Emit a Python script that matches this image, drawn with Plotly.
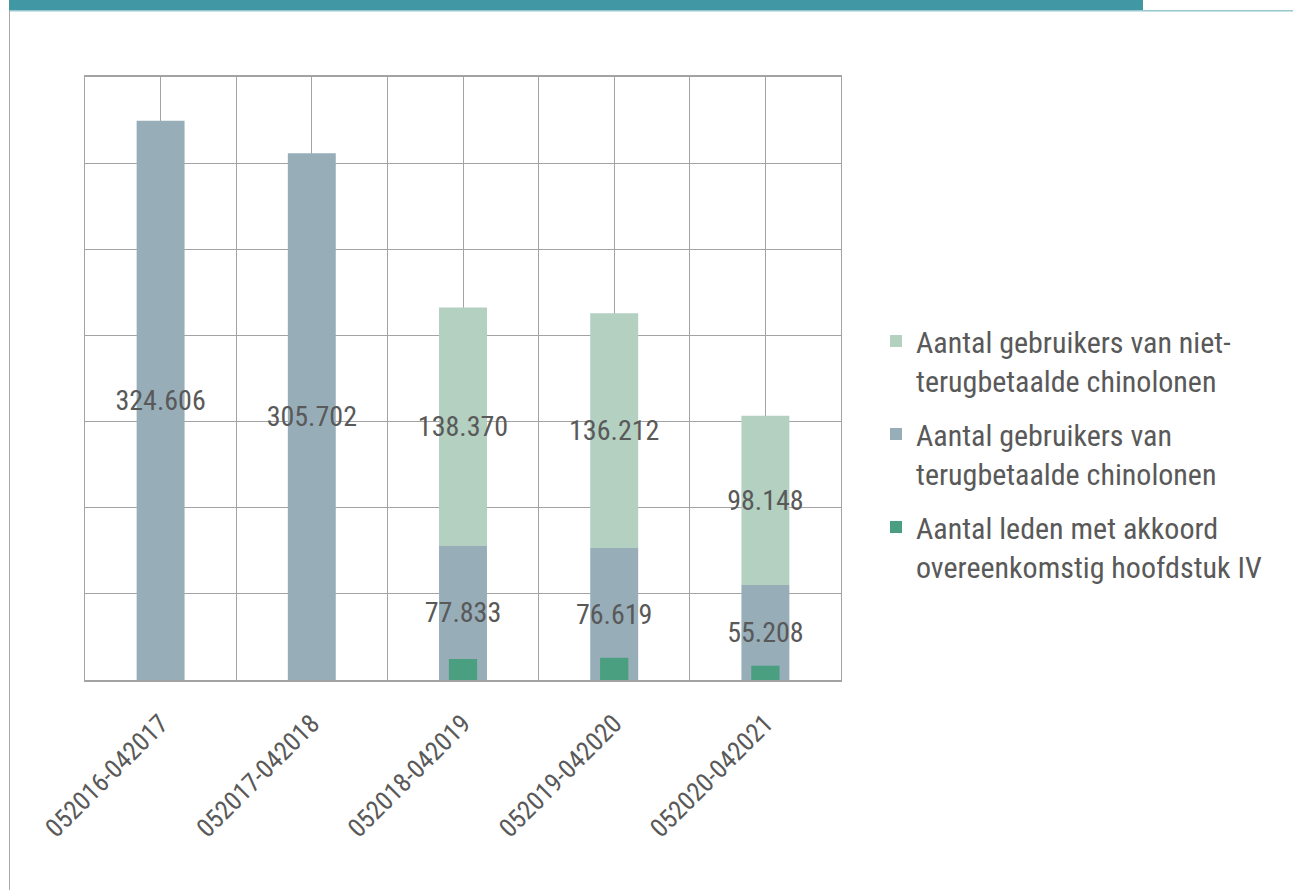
import plotly.graph_objects as go

categories = ["052016-042017", "052017-042018", "052018-042019", "052019-042020", "052020-042021"]
terugbetaald = [324606, 305702, 77833, 76619, 55208]
niet_terugbetaald = [None, None, 138370, 136212, 98148]
akkoord = [None, None, 12200, 12900, 8300]

names = [
    "Aantal gebruikers van niet-<br>terugbetaalde chinolonen",
    "Aantal gebruikers van<br>terugbetaalde chinolonen",
    "Aantal leden met akkoord<br>overeenkomstig hoofdstuk IV",
]
colors = ["#b3d0c1", "#97aeb9", "#4a9f80"]
TXT = "#595959"
FONT = "Roboto Condensed, DejaVu Sans Condensed, sans-serif"

def fmt(v):
    return "" if v is None else f"{v:,}".replace(",", ".")

xs = list(range(len(categories)))

fig = go.Figure()
fig.add_trace(go.Bar(
    x=xs, y=terugbetaald, width=0.317, name=names[1], marker_color=colors[1],
    text=[fmt(v) for v in terugbetaald], textposition="inside", insidetextanchor="middle",
    constraintext="none", textangle=0, textfont=dict(color=TXT, size=28, family=FONT),
    legendrank=2, legendgroup="b", marker_line_width=0,
))
fig.add_trace(go.Bar(
    x=xs, y=niet_terugbetaald, base=terugbetaald, width=0.317, name=names[0], marker_color=colors[0],
    text=[fmt(v) for v in niet_terugbetaald], textposition="inside", insidetextanchor="middle",
    constraintext="none", textangle=0, textfont=dict(color=TXT, size=28, family=FONT),
    legendrank=1, legendgroup="a", marker_line_width=0,
))
fig.add_trace(go.Bar(
    x=xs, y=akkoord, width=0.187, name=names[2], marker_color=colors[2],
    legendrank=3, legendgroup="c", marker_line_width=0,
))

L, R, T, B = 85, 841, 77, 680
W, H = 1293, 890

def px(x):
    return (x - L) / (R - L)

def py(y):
    return (B - y) / (B - T)

grid = "#a3a3a3"
fig.update_layout(
    width=W, height=H, barmode="overlay",
    margin=dict(l=L, r=W - R, t=T, b=H - B, autoexpand=False),
    paper_bgcolor="white", plot_bgcolor="white",
    font=dict(family=FONT, color=TXT),
    showlegend=True,
    legend=dict(
        x=px(876), y=py(315), xanchor="left", yanchor="top",
        font=dict(size=30, family=FONT, color=TXT),
        tracegroupgap=12, valign="top", traceorder="grouped",
        itemsizing="constant",
    ),
    xaxis=dict(
        range=[-0.5, 4.5], tickmode="array", tickvals=xs, ticktext=categories,
        tickangle=-45, tickfont=dict(size=26, family=FONT, color=TXT),
        showgrid=True, gridcolor=grid, gridwidth=1,
        minor=dict(tickvals=[i - 0.5 for i in range(len(categories) + 1)], showgrid=True,
                   gridcolor=grid, gridwidth=1),
        showline=True, linecolor=grid, linewidth=2, mirror=True, ticks="",
        zeroline=False, ticklabelstandoff=16,
    ),
    yaxis=dict(
        range=[0, 350000], dtick=50000, showticklabels=False,
        showgrid=True, gridcolor=grid, gridwidth=1,
        showline=True, linecolor=grid, linewidth=1, mirror=True, zeroline=False,
    ),
    shapes=[
        dict(type="rect", xref="paper", yref="paper", x0=px(9), x1=px(1143), y0=py(0), y1=py(10),
             fillcolor="#4197a3", line_width=0, layer="above"),
        dict(type="line", xref="paper", yref="paper", x0=px(9), x1=px(1293), y0=py(10.7), y1=py(10.7),
             line=dict(color="#96c8cd", width=1.5)),
        dict(type="line", xref="paper", yref="paper", x0=px(9.5), x1=px(9.5), y0=py(10), y1=py(890),
             line=dict(color="#a9a9a9", width=1)),
    ],
)

fig.write_html("out.html")
